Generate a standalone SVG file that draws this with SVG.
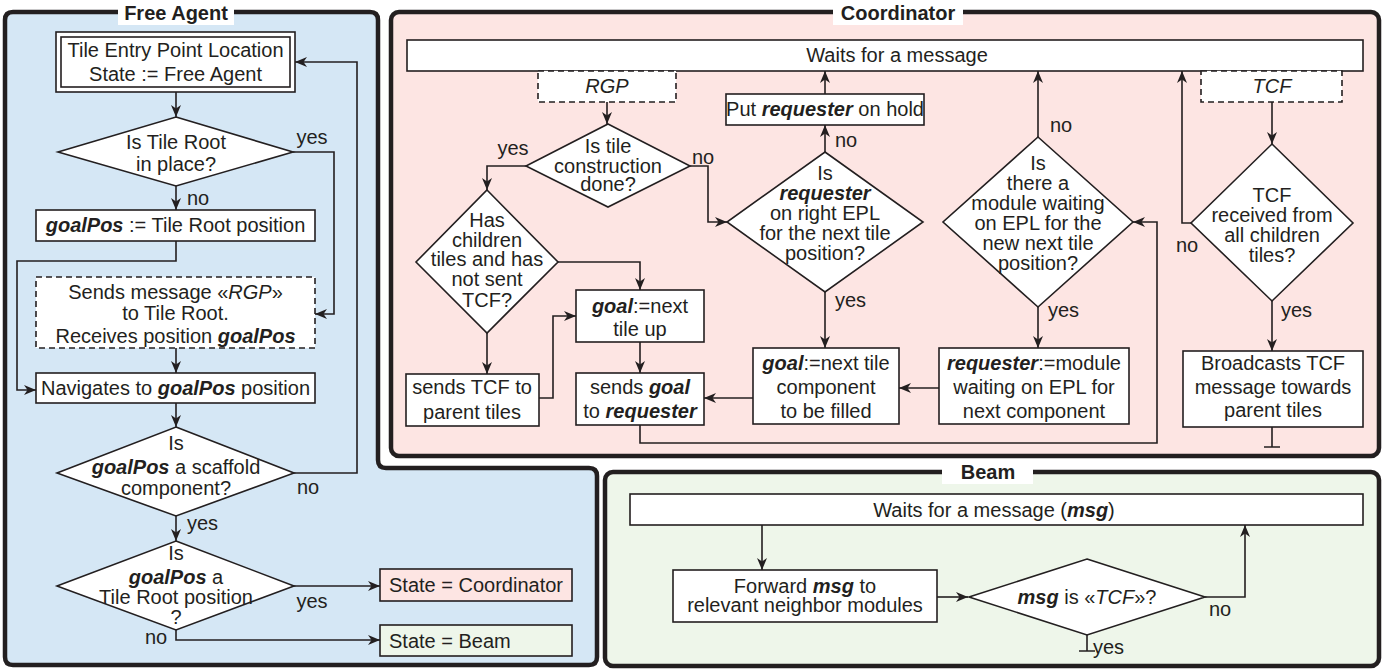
<svg xmlns="http://www.w3.org/2000/svg" width="1387" height="670" viewBox="0 0 1387 670">
<defs>
<style>
.t{font-family:"Liberation Sans",Arial,sans-serif;font-size:20px;fill:#231f20;text-anchor:middle}
.s{text-anchor:start}
.h{font-weight:bold}
.bi{font-weight:bold;font-style:italic}
.it{font-style:italic}
.box{fill:#fff;stroke:#231f20;stroke-width:1.6}
.dash{stroke-dasharray:6 4}
.conn{fill:none;stroke:#231f20;stroke-width:1.6}
.arr{marker-end:url(#ah)}
.panel{stroke:#231f20;stroke-width:4.5}
</style>
<marker id="ah" viewBox="0 0 12 10" refX="12" refY="5" markerWidth="12" markerHeight="10" orient="auto" markerUnits="userSpaceOnUse">
<path d="M0,0 L12,5 L0,10 L3.5,5 Z" fill="#231f20"/>
</marker>
</defs>
<rect width="1387" height="670" fill="#fff"/>

<!-- Panels -->
<g id="panel-free-agent">
<path class="panel" fill="#d5e7f5" d="M5,20 Q5,12 13,12 L370,12 Q378,12 378,20 L378,460 Q378,468 386,468 L589,468 Q597,468 597,476 L597,657 Q597,665 589,665 L13,665 Q5,665 5,657 Z"/>
<rect x="118" y="1" width="116" height="24" fill="#fff"/>
<text class="t h" x="176" y="20">Free Agent</text>
</g>
<g id="panel-coordinator">
<rect class="panel" x="391" y="12" width="988" height="444" rx="8" fill="#fde5e3"/>
<rect x="833" y="1" width="130" height="24" fill="#fff"/>
<text class="t h" x="898" y="20">Coordinator</text>
</g>
<g id="panel-beam">
<rect class="panel" x="605" y="472" width="774" height="194" rx="8" fill="#eef6ea"/>
<rect x="942" y="459" width="91" height="25" fill="#fff"/>
<text class="t h" x="988" y="479">Beam</text>
</g>

<!-- Connectors -->
<g id="connectors">
<!-- Free agent -->
<path class="conn arr" d="M176,92 L176,117"/>
<path class="conn arr" d="M293,152 L334,152 L334,314 L315,314"/>
<path class="conn arr" d="M176,186 L176,210"/>
<path class="conn arr" d="M176,241 L176,261 L17,261 L17,390 L36,390"/>
<path class="conn arr" d="M176,348 L176,373"/>
<path class="conn arr" d="M176,403 L176,427"/>
<path class="conn arr" d="M294,473 L357,473 L357,62 L295,62"/>
<path class="conn arr" d="M176,516 L176,541"/>
<path class="conn arr" d="M294,586 L380,586"/>
<path class="conn arr" d="M176,630 L176,640 L380,640"/>
<!-- Coordinator -->
<path class="conn arr" d="M607,102 L607,124"/>
<path class="conn arr" d="M526,166 L487,166 L487,190"/>
<path class="conn arr" d="M690,166 L708,166 L708,222 L727,222"/>
<path class="conn arr" d="M558,262 L640,262 L640,290"/>
<path class="conn arr" d="M487,333 L487,374"/>
<path class="conn arr" d="M539,398 L553,398 L553,316 L576,316"/>
<path class="conn arr" d="M640,342 L640,373"/>
<path class="conn arr" d="M640,425 L640,443 L1157,443 L1157,222 L1133,222"/>
<path class="conn arr" d="M825,94 L825,71"/>
<path class="conn arr" d="M825,152 L825,125"/>
<path class="conn arr" d="M825,292 L825,348"/>
<path class="conn arr" d="M753,398 L704,398"/>
<path class="conn arr" d="M1038,137 L1038,71"/>
<path class="conn arr" d="M1038,307 L1038,348"/>
<path class="conn arr" d="M939,388 L899,388"/>
<path class="conn arr" d="M1272,102 L1272,144"/>
<path class="conn arr" d="M1191,223 L1182,223 L1182,71"/>
<path class="conn arr" d="M1272,301 L1272,351"/>
<path class="conn" d="M1272,427 L1272,447 M1264,447 L1280,447"/>
<!-- Beam -->
<path class="conn arr" d="M762,525 L762,570"/>
<path class="conn arr" d="M937,597 L968,597"/>
<path class="conn arr" d="M1205,597 L1245,597 L1245,525"/>
<path class="conn" d="M1087,635 L1087,651 M1079,651 L1095,651"/>
<!-- labels -->
<text class="t" x="312" y="144">yes</text>
<text class="t s" x="187" y="205">no</text>
<text class="t" x="308" y="494">no</text>
<text class="t s" x="187" y="530">yes</text>
<text class="t" x="312" y="608">yes</text>
<text class="t" x="156" y="644">no</text>
<text class="t" x="513" y="155">yes</text>
<text class="t" x="703" y="164">no</text>
<text class="t s" x="835" y="147">no</text>
<text class="t s" x="835" y="307">yes</text>
<text class="t s" x="1050" y="132">no</text>
<text class="t s" x="1048" y="317">yes</text>
<text class="t" x="1187" y="252">no</text>
<text class="t s" x="1281" y="317">yes</text>
<text class="t" x="1220" y="616">no</text>
<text class="t s" x="1093" y="654">yes</text>
</g>

<!-- Free Agent nodes -->
<g id="fa-entry">
<rect class="box" x="56" y="32" width="239" height="60"/>
<rect class="box" x="61" y="37" width="229" height="50"/>
<text class="t" x="175.5" y="57">Tile Entry Point Location</text>
<text class="t" x="175.5" y="81">State := Free Agent</text>
</g>
<g id="fa-root-in-place">
<polygon class="box" points="176,117 293,152 176,186 58,152"/>
<text class="t" x="176" y="149">Is Tile Root</text>
<text class="t" x="176" y="171">in place?</text>
</g>
<g id="fa-goalpos">
<rect class="box" x="36" y="210" width="279" height="31"/>
<text class="t" x="175.5" y="232"><tspan class="bi">goalPos</tspan> := Tile Root position</text>
</g>
<g id="fa-send-rgp">
<rect class="box dash" x="36" y="277" width="279" height="71"/>
<text class="t" x="175.5" y="299">Sends message «<tspan class="it">RGP</tspan>»</text>
<text class="t" x="175.5" y="320">to Tile Root.</text>
<text class="t" x="175.5" y="343">Receives position <tspan class="bi">goalPos</tspan></text>
</g>
<g id="fa-navigate">
<rect class="box" x="36" y="373" width="279" height="30"/>
<text class="t" x="175.5" y="395">Navigates to <tspan class="bi">goalPos</tspan> position</text>
</g>
<g id="fa-scaffold">
<polygon class="box" points="176,427 294,473 176,516 57,473"/>
<text class="t" x="176" y="450">Is</text>
<text class="t" x="176" y="474"><tspan class="bi">goalPos</tspan> a scaffold</text>
<text class="t" x="176" y="495">component?</text>
</g>
<g id="fa-tile-root-pos">
<polygon class="box" points="176,541 294,586 176,630 57,586"/>
<text class="t" x="176" y="560">Is</text>
<text class="t" x="176" y="584"><tspan class="bi">goalPos</tspan> a</text>
<text class="t" x="176" y="604">Tile Root position</text>
<text class="t" x="176" y="624">?</text>
</g>
<g id="fa-state-coordinator">
<rect class="box" x="380" y="569" width="192" height="32" fill="#fde5e3" style="fill:#fde5e3"/>
<text class="t s" x="389" y="592">State = Coordinator</text>
</g>
<g id="fa-state-beam">
<rect class="box" x="380" y="625" width="192" height="31" style="fill:#eef6ea"/>
<text class="t s" x="389" y="648">State = Beam</text>
</g>

<!-- Coordinator nodes -->
<g id="co-wait">
<rect class="box" x="407" y="40" width="956" height="31"/>
<text class="t" x="897" y="62">Waits for a message</text>
</g>
<g id="co-rgp">
<rect class="box dash" x="538" y="71" width="138" height="31"/>
<text class="t it" x="607" y="93">RGP</text>
</g>
<g id="co-tile-done">
<polygon class="box" points="608,124 690,166 608,207 526,166"/>
<text class="t" x="608" y="153">Is tile</text>
<text class="t" x="608" y="173">construction</text>
<text class="t" x="608" y="191">done?</text>
</g>
<g id="co-has-children">
<polygon class="box" points="487,190 558,262 487,333 416,262"/>
<text class="t" x="487" y="227">Has</text>
<text class="t" x="487" y="247">children</text>
<text class="t" x="487" y="266">tiles and has</text>
<text class="t" x="487" y="286">not sent</text>
<text class="t" x="487" y="307">TCF?</text>
</g>
<g id="co-send-tcf">
<rect class="box" x="406" y="374" width="133" height="52"/>
<text class="t" x="472" y="394">sends TCF to</text>
<text class="t" x="472" y="419">parent tiles</text>
</g>
<g id="co-goal-up">
<rect class="box" x="576" y="290" width="128" height="52"/>
<text class="t" x="640" y="313"><tspan class="bi">goal</tspan>:=next</text>
<text class="t" x="640" y="336">tile up</text>
</g>
<g id="co-send-goal">
<rect class="box" x="576" y="373" width="128" height="52"/>
<text class="t" x="640" y="394">sends <tspan class="bi">goal</tspan></text>
<text class="t" x="640" y="418">to <tspan class="bi">requester</tspan></text>
</g>
<g id="co-hold">
<rect class="box" x="726" y="94" width="198" height="31"/>
<text class="t" x="825" y="116">Put <tspan class="bi">requester</tspan> on hold</text>
</g>
<g id="co-right-epl">
<polygon class="box" points="825,152 923,222 825,292 727,222"/>
<text class="t" x="825" y="180">Is</text>
<text class="t bi" x="825" y="200">requester</text>
<text class="t" x="825" y="220">on right EPL</text>
<text class="t" x="825" y="240">for the next tile</text>
<text class="t" x="825" y="260">position?</text>
</g>
<g id="co-goal-component">
<rect class="box" x="753" y="348" width="146" height="76"/>
<text class="t" x="826" y="370"><tspan class="bi">goal</tspan>:=next tile</text>
<text class="t" x="826" y="394">component</text>
<text class="t" x="826" y="418">to be filled</text>
</g>
<g id="co-module-waiting">
<polygon class="box" points="1038,137 1133,222 1038,307 943,222"/>
<text class="t" x="1038" y="170">Is</text>
<text class="t" x="1038" y="190">there a</text>
<text class="t" x="1038" y="210">module waiting</text>
<text class="t" x="1038" y="230">on EPL for the</text>
<text class="t" x="1038" y="250">new next tile</text>
<text class="t" x="1038" y="270">position?</text>
</g>
<g id="co-requester-module">
<rect class="box" x="939" y="348" width="190" height="76"/>
<text class="t" x="1034" y="370"><tspan class="bi">requester</tspan>:=module</text>
<text class="t" x="1034" y="394">waiting on EPL for</text>
<text class="t" x="1034" y="418">next component</text>
</g>
<g id="co-tcf">
<rect class="box dash" x="1201" y="71" width="141" height="31"/>
<text class="t it" x="1272" y="93">TCF</text>
</g>
<g id="co-tcf-all">
<polygon class="box" points="1272,144 1353,223 1272,301 1191,223"/>
<text class="t" x="1272" y="202">TCF</text>
<text class="t" x="1272" y="222">received from</text>
<text class="t" x="1272" y="242">all children</text>
<text class="t" x="1272" y="262">tiles?</text>
</g>
<g id="co-broadcast">
<rect class="box" x="1183" y="351" width="180" height="76"/>
<text class="t" x="1273" y="370">Broadcasts TCF</text>
<text class="t" x="1273" y="394">message towards</text>
<text class="t" x="1273" y="417">parent tiles</text>
</g>

<!-- Beam nodes -->
<g id="be-wait">
<rect class="box" x="630" y="494" width="733" height="31"/>
<text class="t" x="994" y="517">Waits for a message (<tspan class="bi">msg</tspan>)</text>
</g>
<g id="be-forward">
<rect class="box" x="673" y="570" width="264" height="52"/>
<text class="t" x="805" y="593">Forward <tspan class="bi">msg</tspan> to</text>
<text class="t" x="805" y="612">relevant neighbor modules</text>
</g>
<g id="be-is-tcf">
<polygon class="box" points="1087,559 1205,597 1087,635 969,597"/>
<text class="t" x="1087" y="604"><tspan class="bi">msg</tspan> is «<tspan class="it">TCF</tspan>»?</text>
</g>
</svg>
